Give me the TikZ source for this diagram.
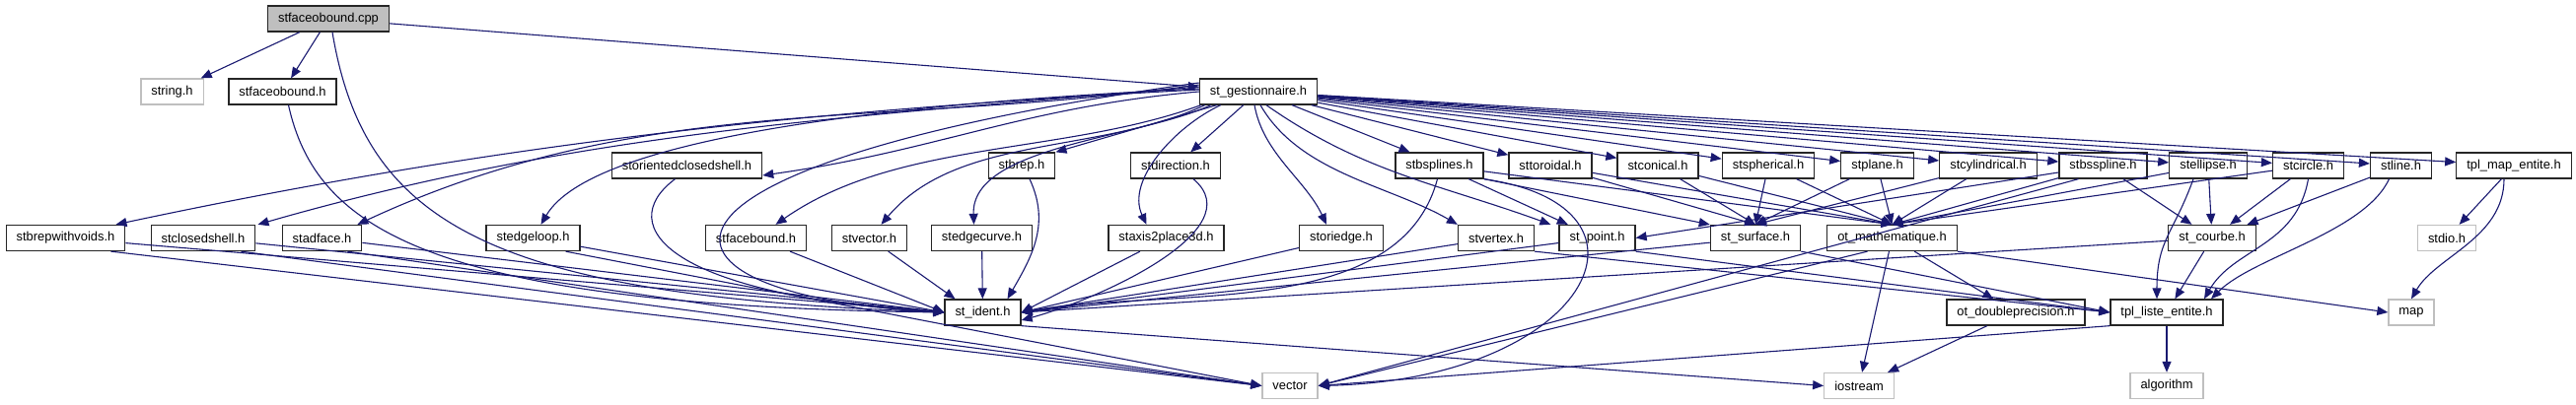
\documentclass[tikz,border=0pt]{standalone}
\usepackage{fontspec}
\setmainfont{Liberation Sans}
\usetikzlibrary{arrows.meta,positioning,calc}
\definecolor{edgeblue}{RGB}{25,25,112}
\definecolor{rootgray}{RGB}{191,191,191}

\begin{document}
\begin{tikzpicture}[x=1pt,y=-1pt,
  file/.style={draw=black!85,line width=1.3pt,rectangle,minimum height=26pt,inner xsep=10.5pt,inner ysep=0pt,font=\fontsize{12.9}{14}\selectfont},
  root file/.style={file,fill=rootgray},
  sys file/.style={file,draw=rootgray},
  dep/.style={draw=edgeblue,line width=1.1pt,-{Triangle[length=11pt,width=9pt]}},
]
\useasboundingbox (0,0) rectangle (2612,411);

% rank 0 and 1
\node[root file] (cpp) at (333,19) {stfaceobound.cpp};
\node[sys file] (str) at (174.5,93) {string.h};
\node[file] (sfbh) at (286.5,93) {stfaceobound.h};
\node[file] (gest) at (1276,93) {st\_gestionnaire.h};

% rank 2
\node[file] (osh) at (696.5,168) {storientedclosedshell.h};
\node[file] (brep) at (1036,168) {stbrep.h};
\node[file] (dir) at (1192,168) {stdirection.h};
\node[file] (bss) at (1459.5,168) {stbsplines.h};
\node[file] (tor) at (1572,168) {sttoroidal.h};
\node[file] (con) at (1681,168) {stconical.h};
\node[file] (sph) at (1793,168) {stspherical.h};
\node[file] (pla) at (1903.5,168) {stplane.h};
\node[file] (cyl) at (2016,168) {stcylindrical.h};
\node[file] (bsp) at (2132.5,168) {stbsspline.h};
\node[file] (ell) at (2239,168) {stellipse.h};
\node[file] (cir) at (2340.5,168) {stcircle.h};
\node[file] (lin) at (2434.5,168) {stline.h};
\node[file] (tme) at (2549,168) {tpl\_map\_entite.h};

% rank 3
\node[file] (bwv) at (66.5,241.5) {stbrepwithvoids.h};
\node[file] (csh) at (206,241.5) {stclosedshell.h};
\node[file] (adf) at (326.5,241.5) {stadface.h};
\node[file] (egl) at (540.5,241.5) {stedgeloop.h};
\node[file] (fbd) at (766.5,241.5) {stfacebound.h};
\node[file] (vec) at (881.5,241.5) {stvector.h};
\node[file] (ecv) at (995.5,241.5) {stedgecurve.h};
\node[file] (ax) at (1182.5,241.5) {staxis2place3d.h};
\node[file] (oe) at (1360,241.5) {storiedge.h};
\node[file] (vx) at (1517,241.5) {stvertex.h};
\node[file] (pt) at (1619.5,241.5) {st\_point.h};
\node[file] (sur) at (1780,241.5) {st\_surface.h};
\node[file] (om) at (1918.5,241.5) {ot\_mathematique.h};
\node[file] (crb) at (2243,241.5) {st\_courbe.h};
\node[sys file] (stdio) at (2481,241.5) {stdio.h};

% rank 4 and 5
\node[file] (ident) at (996.5,317) {st\_ident.h};
\node[file] (odp) at (2044,317) {ot\_doubleprecision.h};
\node[file] (tle) at (2197,317) {tpl\_liste\_entite.h};
\node[sys file] (map) at (2445,317) {map};
\node[sys file] (vector) at (1308,391.5) {vector};
\node[sys file] (ios) at (1885,391.5) {iostream};
\node[sys file] (alg) at (2197,391.5) {algorithm};

% stfaceobound.cpp
\draw[dep] (cpp) -- (str);
\draw[dep] (cpp) -- (sfbh);
\draw[dep] (cpp) -- (gest);
\draw[dep] ([xshift=4pt]cpp.south) .. controls (370,230) and (500,300) .. (ident.west);
\draw[dep] ([xshift=6pt]sfbh.south) .. controls (320,230) and (430,310) .. (ident.west);

% st_gestionnaire.h, left part
\draw[dep] ([yshift=2pt]gest.west) .. controls +(183:400pt) and +(12:400pt) .. ([xshift=-10pt]bwv.north east);
\draw[dep] ([yshift=5pt]gest.west) .. controls +(185:350pt) and +(16:350pt) .. ([xshift=2pt]csh.north east);
\draw[dep] ([yshift=7pt]gest.west) .. controls +(188:320pt) and +(25:320pt) .. ([xshift=-5pt]adf.north east);
\draw[dep] (gest.west) .. controls +(185:180pt) and +(8:180pt) .. ([yshift=-10pt]osh.east);
\draw[dep] ([yshift=3pt]gest.west) .. controls (900,105) and (600,140) .. ([xshift=8pt]egl.north);
\draw[dep] ([yshift=9pt]gest.west) .. controls (600,170) and (640,300) .. (ident.west);
\draw[dep] ([xshift=2pt]gest.south west) .. controls +(200:150pt) and +(35:150pt) .. ([xshift=20pt]fbd.north);
\draw[dep] ([xshift=6pt]gest.south west) .. controls +(205:120pt) and +(50:120pt) .. ([xshift=12pt]vec.north);
\draw[dep] ([xshift=12pt]gest.south west) .. controls +(205:80pt) and +(92:80pt) .. ([xshift=-8pt]ecv.north);
\draw[dep] ([xshift=18pt]gest.south west) -- (brep.north east);
\draw[dep] (gest) -- (dir);
\draw[dep] ([xshift=22pt]gest.south west) .. controls +(205:50pt) and +(115:50pt) .. ([xshift=-20pt]ax.north);

% st_gestionnaire.h, right part
\draw[dep] ([xshift=-4pt]gest.south) .. controls +(-80:50pt) and +(115:50pt) .. ([xshift=-15pt]oe.north);
\draw[dep] ([xshift=2pt]gest.south) .. controls +(-60:80pt) and +(150:80pt) .. (vx.north west);
\draw[dep] ([xshift=8pt]gest.south) .. controls +(-35:120pt) and +(160:120pt) .. ([xshift=-8pt]pt.north west);
\draw[dep] (gest) -- ([xshift=-30pt]bss.north);
\foreach \hdr in {tor,con,sph,pla,cyl,bsp,ell,cir,lin,tme}
  \draw[dep] (gest) -- (\hdr);

% into st_ident.h
\foreach \hdr in {bwv,csh,adf,egl,fbd}
  \draw[dep] (\hdr) -- (ident.west);
\draw[dep] ([xshift=-12pt]osh.south) .. controls (620,230) and (680,300) .. (ident.west);
\draw[dep] (vec) -- ([xshift=-28pt]ident.north);
\draw[dep] (ecv) -- (ident);
\draw[dep] ([xshift=8pt]brep.south) .. controls +(-65:50pt) and +(60:50pt) .. ([xshift=25pt]ident.north);
\draw[dep] ([xshift=18pt]dir.south) .. controls +(-40:80pt) and +(15:80pt) .. ([yshift=-8pt]ident.east);
\foreach \hdr in {ax,oe,vx,pt,sur}
  \draw[dep] (\hdr) -- (ident.east);
\draw[dep] ([xshift=-2pt]bss.south) .. controls +(-105:150pt) and +(10:150pt) .. (ident.east);
\draw[dep] (crb) -- (ident.east);

% into vector
\foreach \hdr in {bwv,csh,adf,egl}
  \draw[dep] ([xshift=-15pt]\hdr.south east) -- (vector.west);
\draw[dep] (bss.south east) .. controls (1700,210) and (1610,385) .. (vector.east);
\draw[dep] ([xshift=-25pt]bsp.south) -- (vector.east);
\draw[dep] ([xshift=-25pt]om.south) -- (vector.east);
\draw[dep] (tle.south west) -- (vector.east);

% curves and surfaces
\foreach \hdr in {tor,con,sph,pla,cyl}
  \draw[dep] (\hdr) -- (sur.north);
\foreach \hdr in {bss,tor,con,sph,pla,cyl,bsp,ell,cir}
  \draw[dep] (\hdr) -- (om.north);
\draw[dep] (bss) -- (pt);
\draw[dep] (bss.south east) -- (sur.north west);
\draw[dep] (bsp) -- (pt.east);
\foreach \hdr in {bsp,ell,cir,lin}
  \draw[dep] (\hdr) -- (crb);
\draw[dep] ([xshift=-15pt]ell.south) .. controls +(-110:60pt) and +(90:60pt) .. ([xshift=-10pt]tle.north);
\draw[dep] (cir.south) .. controls +(-100:70pt) and +(60:60pt) .. ([xshift=38pt]tle.north);
\draw[dep] ([xshift=-12pt]lin.south) .. controls +(-115:60pt) and +(45:60pt) .. ([xshift=45pt]tle.north);
\draw[dep] (crb) -- (tle);
\foreach \hdr in {vx,pt,sur}
  \draw[dep] (\hdr.south east) -- (tle.west);

% low level headers
\draw[dep] (tme) -- (stdio);
\draw[dep] ([xshift=-10pt]tme.south) .. controls +(-90:60pt) and +(60:50pt) .. (map.north);
\draw[dep] (om.south east) -- (map.west);
\draw[dep] (om) -- (odp);
\draw[dep] (om) -- (ios);
\draw[dep] (odp) -- (ios);
\draw[dep] (ident.south east) -- (ios.west);
\draw[dep] (tle) -- (alg);
\end{tikzpicture}
\end{document}
